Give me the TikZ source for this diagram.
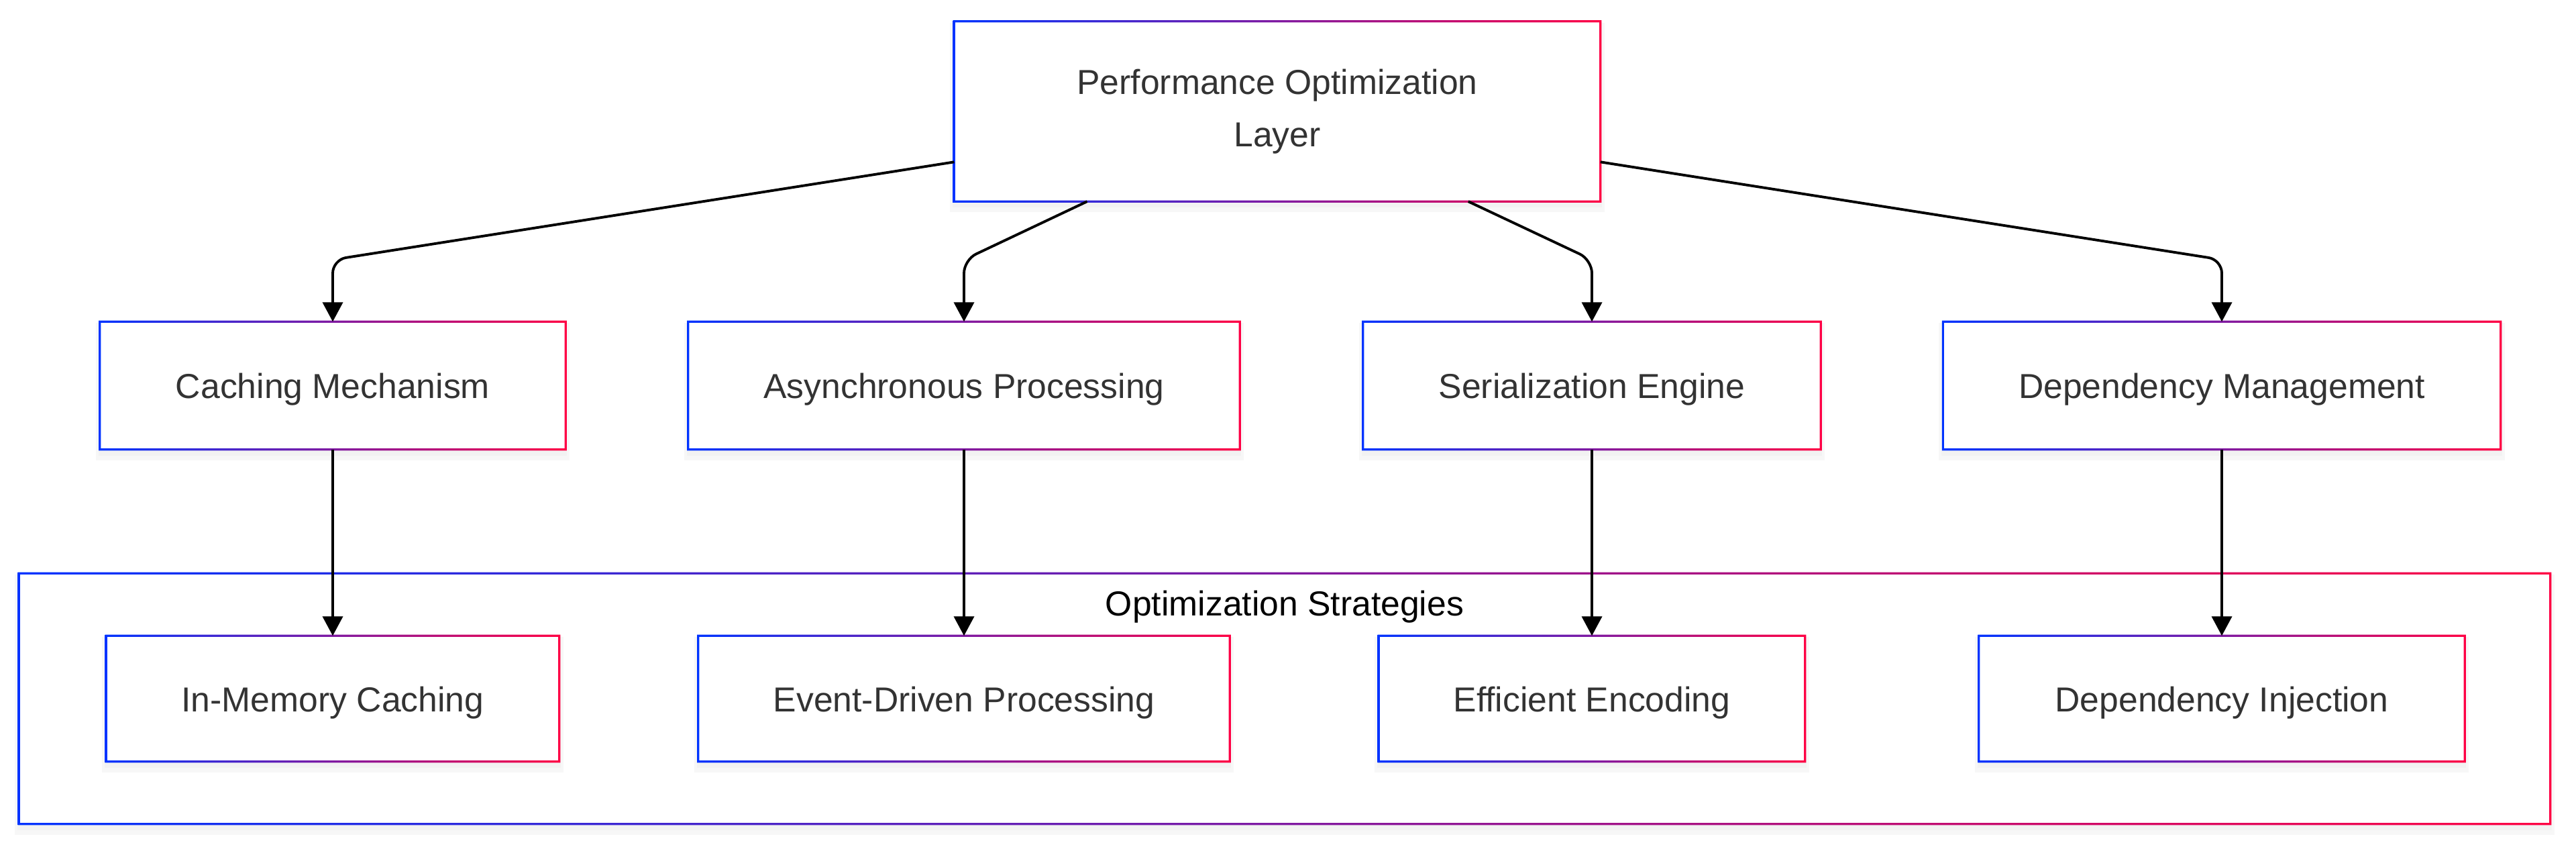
\documentclass[tikz,border=0pt]{standalone}
\usepackage{fontspec}
\setmainfont{Liberation Sans}
\usetikzlibrary{arrows.meta,backgrounds}
\definecolor{gblue}{RGB}{0,51,255}
\definecolor{gred}{RGB}{255,0,68}
\definecolor{txtgray}{RGB}{51,51,51}

\begin{document}
\begin{tikzpicture}[
	box/.style={minimum height=1.89cm, inner sep=0pt, text=txtgray, font=\fontsize{14.7}{22.2}\selectfont},
	oneline/.style={text height=11pt, text depth=0pt},
	arr/.style={line width=1.1pt, -{Triangle[length=0.29cm,width=0.3cm]}, rounded corners=0.2cm}]
	\useasboundingbox (0,0) rectangle (38.4,-12.61);

	% top layer
	\node[box, minimum width=9.62cm, minimum height=2.67cm, align=center] (perf) at (19.04,-1.66) {Performance Optimization\\Layer};

	% components
	\node[box, oneline, minimum width=6.93cm] (cache) at (4.96,-5.745) {Caching Mechanism};
	\node[box, oneline, minimum width=8.21cm] (async) at (14.37,-5.745) {Asynchronous Processing};
	\node[box, oneline, minimum width=6.81cm] (serial) at (23.73,-5.745) {Serialization Engine};
	\node[box, oneline, minimum width=8.30cm] (depmgmt) at (33.12,-5.745) {Dependency Management};

	% strategies
	\node[inner sep=0pt, minimum width=37.72cm, minimum height=3.72cm] (strat) at (19.15,-10.41) {};
	\node[box, oneline, minimum height=0pt, text=black] (stratlabel) at (19.15,-8.98) {Optimization Strategies};
	\node[box, oneline, minimum width=6.74cm, minimum height=1.86cm] (inmem) at (4.96,-10.41) {In-Memory Caching};
	\node[box, oneline, minimum width=7.91cm, minimum height=1.86cm] (event) at (14.37,-10.41) {Event-Driven Processing};
	\node[box, oneline, minimum width=6.34cm, minimum height=1.86cm] (encode) at (23.73,-10.41) {Efficient Encoding};
	\node[box, oneline, minimum width=7.23cm, minimum height=1.86cm] (inject) at (33.12,-10.41) {Dependency Injection};

	% frames, gradient from blue to red
	\begin{scope}[on background layer]
		\foreach \n in {strat,perf,cache,async,serial,depmgmt,inmem,event,encode,inject} {
			\fill[black!3] ([shift={(-0.06,-0.16)}]\n.south west) rectangle ([shift={(0.06,-0.02)}]\n.north east);
			\fill[black!5] ([shift={(-0.02,-0.09)}]\n.south west) rectangle ([shift={(0.02,-0.01)}]\n.north east);
			\fill[white] (\n.south west) rectangle (\n.north east);
			\shade[left color=gblue, right color=gred, even odd rule]
				([shift={(-0.45pt,-0.45pt)}]\n.south west) rectangle ([shift={(0.45pt,0.45pt)}]\n.north east)
				([shift={(0.45pt,0.45pt)}]\n.south west) rectangle ([shift={(-0.45pt,-0.45pt)}]\n.north east);
		}
	\end{scope}

	% bends
	\coordinate (b1) at (4.96,-3.87);
	\coordinate (b2) at (14.37,-3.87);
	\coordinate (b3) at (23.73,-3.87);
	\coordinate (b4) at (33.12,-3.87);

	\draw[arr] (perf) -- (b1) -- (cache);
	\draw[arr] (perf) -- (b2) -- (async);
	\draw[arr] (perf) -- (b3) -- (serial);
	\draw[arr] (perf) -- (b4) -- (depmgmt);

	\draw[arr] (cache) -- (inmem);
	\draw[arr] (async) -- (event);
	\draw[arr] (serial) -- (encode);
	\draw[arr] (depmgmt) -- (inject);
\end{tikzpicture}
\end{document}
